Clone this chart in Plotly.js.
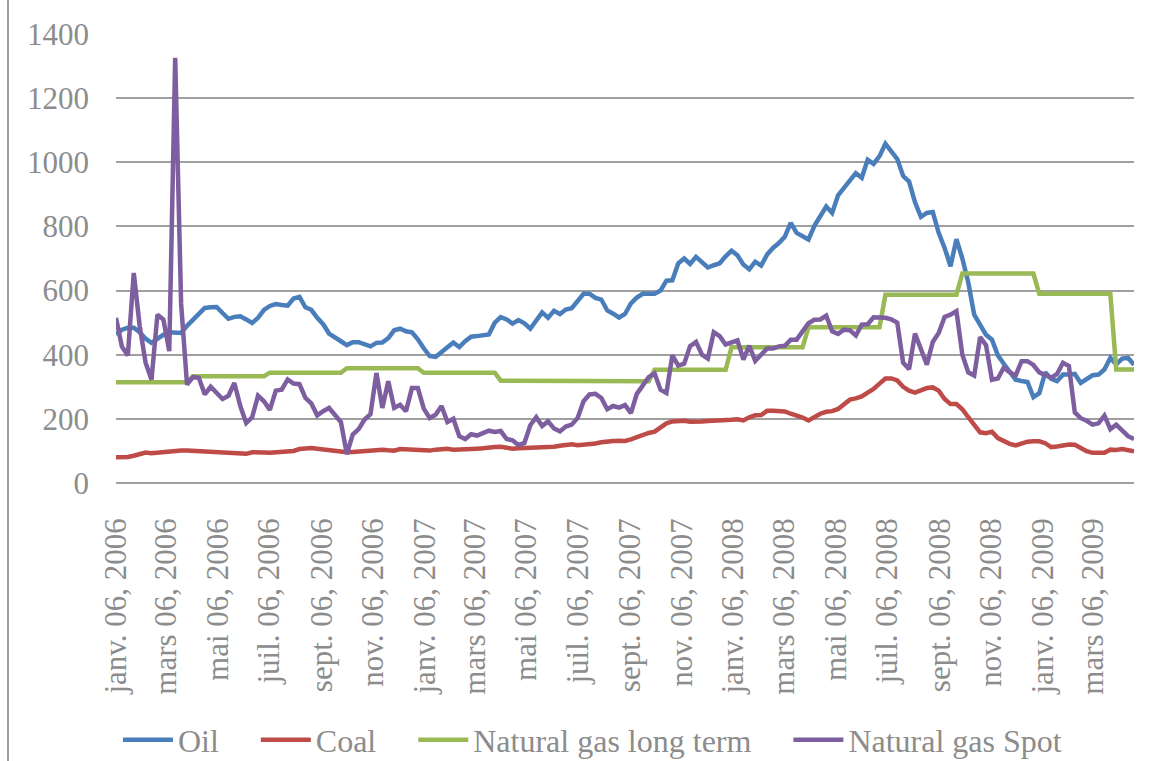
<!DOCTYPE html>
<html>
<head>
<meta charset="utf-8">
<script src="https://cdn.plot.ly/plotly-3.0.1.min.js"></script>
<style>
  html, body { margin: 0; padding: 0; background: #ffffff; }
  #chart { width: 1150px; height: 761px; }
</style>
</head>
<body>
<div id="chart"></div>
<script>
// Weekly observations, first week 6 Jan 2006, 173 weeks
const startDate = '2006-01-06';
const weekCount = 173;

const tickDates = ['2006-01-06','2006-03-06','2006-05-06','2006-07-06','2006-09-06','2006-11-06',
  '2007-01-06','2007-03-06','2007-05-06','2007-07-06','2007-09-06','2007-11-06',
  '2008-01-06','2008-03-06','2008-05-06','2008-07-06','2008-09-06','2008-11-06',
  '2009-01-06','2009-03-06'];
const tickLabels = ['janv. 06, 2006','mars 06, 2006','mai 06, 2006','juil. 06, 2006','sept. 06, 2006','nov. 06, 2006',
  'janv. 06, 2007','mars 06, 2007','mai 06, 2007','juil. 06, 2007','sept. 06, 2007','nov. 06, 2007',
  'janv. 06, 2008','mars 06, 2008','mai 06, 2008','juil. 06, 2008','sept. 06, 2008','nov. 06, 2008',
  'janv. 06, 2009','mars 06, 2009'];

const seriesNames = ['Oil', 'Coal', 'Natural gas long term', 'Natural gas Spot'];

const oil = [463,478,484,484,470,450,437,450,462,470,470,468,490,510,530,546,548,549,530,512,
  518,520,510,499,515,540,552,558,555,553,575,580,548,540,515,495,466,452,442,430,
  439,439,432,426,437,438,452,476,481,473,470,448,420,396,393,410,423,438,424,442,
  456,458,461,463,500,517,510,497,508,498,481,508,532,515,537,527,541,545,568,590,
  590,577,572,538,528,516,527,560,578,590,590,590,600,631,632,685,700,683,705,690,
  672,679,685,707,724,710,681,666,690,678,712,733,748,768,811,780,770,759,802,832,
  862,842,897,920,945,966,952,1008,995,1019,1058,1036,1010,957,940,875,830,842,845,780,
  733,676,760,700,625,525,490,462,447,398,372,345,322,318,315,268,280,345,325,318,
  338,338,340,312,325,336,338,354,390,370,388,390,369];

const coal = [80,80,81,85,90,95,93,95,95,97,100,101,101,100,97,96,96,95,93,91,
  90,90,91,96,97,95,94,95,95,96,100,106,109,109,107,105,103,99,96,96,
  97,99,100,102,104,104,102,101,106,105,104,102,101,101,104,107,107,104,104,104,
  105,107,108,111,112,113,110,107,108,109,110,111,110,110,113,116,120,121,118,119,
  121,123,127,130,131,132,131,136,143,150,156,160,175,186,192,194,194,191,190,192,
  193,194,192,194,197,199,195,205,211,212,225,225,225,223,216,211,204,195,207,216,
  222,224,231,245,260,264,270,282,293,310,326,326,320,300,288,282,290,296,298,288,
  262,246,246,230,205,180,158,155,160,140,130,122,117,124,129,130,130,124,112,114,
  117,120,119,108,99,94,94,94,104,103,106,102,99];

const gasLongTerm = [314,314,314,314,314,314,314,314,314,314,314,314,314,
  333,333,333,333,333,333,333,333,333,333,333,333,333,
  344,344,344,344,344,344,344,344,344,344,344,344,344,
  358,358,358,358,358,358,358,358,358,358,358,358,358,
  344,344,344,344,344,344,344,344,344,344,344,344,344,
  319,319,319,319,319,319,319,319,319,319,319,319,319,
  317,317,317,317,317,317,317,317,317,317,317,317,317,
  353,353,353,353,353,353,353,353,353,353,353,353,353,
  423,423,423,423,423,423,423,423,423,423,423,423,423,
  486,486,486,486,486,486,486,486,486,486,486,486,486,
  587,587,587,587,587,587,587,587,587,587,587,587,587,
  653,653,653,653,653,653,653,653,653,653,653,653,653,
  590,590,590,590,590,590,590,590,590,590,590,590,590,
  354,354,354,354];

const gasSpot = [515,425,398,655,490,375,322,525,510,411,1326,560,307,330,328,276,300,281,262,272,
  312,240,187,205,272,255,228,288,291,323,310,308,265,248,211,224,234,212,190,90,
  151,168,198,215,343,234,317,234,244,224,296,296,232,203,213,240,190,200,146,137,
  152,148,156,163,159,162,137,133,118,125,180,205,178,192,170,161,176,182,203,255,
  276,278,265,230,240,235,243,218,278,303,330,342,291,281,398,366,372,427,440,400,
  388,470,458,432,440,445,385,428,381,400,419,419,426,428,447,447,474,498,509,510,
  522,473,465,478,476,460,494,495,517,517,515,510,500,375,355,466,416,369,440,468,
  518,525,536,400,345,335,455,430,322,326,360,345,335,380,380,368,345,336,328,340,
  375,365,220,202,194,182,186,210,168,182,164,146,137];

// weekly date categories
const dates = [];
(function () {
  const d0 = new Date(startDate + 'T00:00:00Z');
  for (let i = 0; i < weekCount; i++) {
    const d = new Date(d0.getTime() + i * 7 * 86400000);
    dates.push(d.toISOString().slice(0, 10));
  }
})();

const FONT = "'Liberation Serif', 'Times New Roman', serif";
const TXT = '#8c8c8c';
const GRID = '#a0a0a0';
const PAD = '\u00a0\u00a0\u00a0\u00a0';

function series(name, y, color, last) {
  return {
    type: 'scatter', mode: 'lines', name: last ? name : name + PAD, x: dates, y: y,
    line: { color: color, width: 4.5, shape: 'linear' },
    hoverinfo: 'x+y+name'
  };
}

const data = [
  series(seriesNames[0], oil, '#4a7ebb'),
  series(seriesNames[1], coal, '#be4b48'),
  series(seriesNames[2], gasLongTerm, '#98b954'),
  series(seriesNames[3], gasSpot, '#7d5fa0', true)
];

const layout = {
  width: 1150, height: 761,
  margin: { l: 116, r: 16, t: 34, b: 278, pad: 0, autoexpand: false },
  paper_bgcolor: '#ffffff', plot_bgcolor: '#ffffff',
  font: { family: FONT, color: TXT, size: 31 },
  showlegend: true,
  legend: {
    orientation: 'h', x: 0.468, xanchor: 'center', y: -0.572, yanchor: 'middle',
    font: { family: FONT, size: 32, color: TXT },
    itemwidth: 50, bgcolor: 'rgba(0,0,0,0)', traceorder: 'normal'
  },
  xaxis: {
    type: 'date', automargin: false,
    range: [dates[0], dates[dates.length - 1]],
    tickmode: 'array', tickvals: tickDates, ticktext: tickLabels,
    tickangle: -90, ticks: '', ticklabelstandoff: 28,
    tickfont: { family: FONT, size: 31, color: TXT },
    showgrid: false, zeroline: false, showline: false
  },
  yaxis: {
    automargin: false,
    range: [0, 1400], tickmode: 'linear', tick0: 0, dtick: 200,
    ticks: '', ticklabelstandoff: 26,
    tickfont: { family: FONT, size: 31, color: TXT },
    showgrid: true, gridcolor: GRID, gridwidth: 2,
    zeroline: true, zerolinecolor: GRID, zerolinewidth: 2,
    showline: false
  },
  shapes: [{
    type: 'line', xref: 'paper', yref: 'paper',
    x0: -108 / 1018, x1: -108 / 1018, y0: -300 / 449, y1: 490 / 449,
    line: { color: '#a0a0a0', width: 2 }
  }]
};

Plotly.newPlot('chart', data, layout, { displayModeBar: false, staticPlot: true });
</script>
</body>
</html>
